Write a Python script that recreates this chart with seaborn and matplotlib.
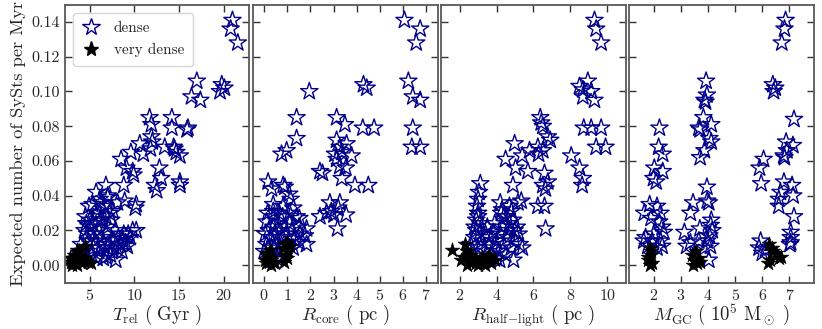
import numpy as np
import pandas as pd
import matplotlib
matplotlib.use('Agg')
import matplotlib.pyplot as plt
from matplotlib.lines import Line2D
import seaborn as sns

# (x, y) values, one list per panel and group
trel_dense = [
    (21.0, 0.141), (20.8, 0.136), (21.6, 0.128), (17.0, 0.106), (16.4, 0.097), (17.4, 0.095),
    (19.8, 0.104), (20.1, 0.102), (19.6, 0.100), (11.7, 0.085), (11.9, 0.081), (14.2, 0.085),
    (14.2, 0.079), (16.0, 0.079), (15.9, 0.078), (11.9, 0.074), (12.0, 0.071), (10.6, 0.070),
    (9.6, 0.065), (11.0, 0.064), (11.8, 0.067), (8.5, 0.061), (9.1, 0.056), (9.8, 0.054),
    (9.9, 0.052), (13.4, 0.068), (14.4, 0.068), (14.7, 0.065), (15.1, 0.063), (14.5, 0.067),
    (12.8, 0.056), (13.0, 0.050), (12.3, 0.046), (12.5, 0.043), (15.1, 0.048), (15.1, 0.046),
    (6.8, 0.046), (8.8, 0.046), (5.7, 0.042), (6.1, 0.038), (7.0, 0.039), (8.9, 0.037),
    (8.1, 0.036), (10.2, 0.035), (10.1, 0.033), (4.9, 0.034), (5.3, 0.035), (6.1, 0.030),
    (6.8, 0.028), (7.6, 0.031), (6.4, 0.026), (4.5, 0.028), (5.3, 0.024), (4.4, 0.020),
    (10.2, 0.020), (9.3, 0.018), (8.7, 0.015), (7.2, 0.012), (7.9, 0.003), (6.8, 0.005),
    (5.9, 0.010), (4.0, 0.012), (3.8, 0.007),
    (5.0, 0.022), (5.5, 0.018), (6.0, 0.020), (6.3, 0.016), (6.6, 0.012), (7.0, 0.010),
    (7.5, 0.008), (8.0, 0.010), (8.4, 0.012), (7.7, 0.014), (8.8, 0.018), (9.0, 0.013),
    (9.5, 0.016), (6.0, 0.008), (5.4, 0.010), (4.8, 0.014), (5.2, 0.006), (6.5, 0.004),
    (7.3, 0.006), (5.8, 0.030), (6.2, 0.026), (7.0, 0.022), (4.7, 0.018), (5.6, 0.014),
    (6.8, 0.018), (7.9, 0.020), (8.6, 0.008), (9.2, 0.011), (5.0, 0.026), (6.6, 0.034),
    (7.2, 0.030), (4.3, 0.008), (5.8, 0.004), (8.2, 0.016), (9.8, 0.020), (7.4, 0.026),
    (6.2, 0.036), (7.0, 0.040), (4.6, 0.024),
]
trel_vdense = [
    (2.8, 0.004), (3.0, 0.002), (3.2, 0.006), (3.4, 0.001), (3.5, 0.009), (3.7, 0.003),
    (3.9, 0.005), (4.1, 0.001), (4.4, 0.011), (4.5, 0.004), (4.8, 0.002), (5.1, 0.001),
    (3.3, 0.003), (3.0, 0.000), (2.9, 0.002), (3.6, 0.000), (4.2, 0.003), (3.8, 0.008),
    (3.1, 0.004), (4.0, 0.002),
]

rcore_dense = [
    (6.06, 0.141), (6.74, 0.136), (6.57, 0.128), (6.23, 0.106), (6.42, 0.097), (6.74, 0.095),
    (6.42, 0.079), (6.38, 0.068), (6.74, 0.068), (1.95, 0.100), (4.29, 0.104), (4.43, 0.102),
    (1.40, 0.085), (1.40, 0.073), (3.13, 0.085), (3.49, 0.081), (4.26, 0.079), (4.75, 0.079),
    (0.75, 0.064), (0.97, 0.066), (3.13, 0.072), (3.27, 0.068), (3.56, 0.070), (3.06, 0.064),
    (3.35, 0.065), (3.78, 0.063), (3.13, 0.061), (3.27, 0.057), (3.53, 0.056), (3.35, 0.050),
    (2.41, 0.054), (2.52, 0.053), (3.92, 0.046), (4.50, 0.046), (0.17, 0.048), (0.32, 0.044),
    (0.82, 0.046), (0.89, 0.045), (1.08, 0.041), (1.14, 0.038), (0.39, 0.035), (0.39, 0.031),
    (0.82, 0.034), (1.26, 0.033), (1.40, 0.028), (1.52, 0.027), (2.84, 0.036), (3.27, 0.036),
    (3.20, 0.033), (2.90, 0.031), (2.70, 0.030), (3.01, 0.029), (2.41, 0.028), (3.54, 0.029),
    (3.17, 0.021), (1.83, 0.021), (1.76, 0.017), (1.54, 0.018), (1.83, 0.012), (1.52, 0.013),
    (0.10, 0.025), (0.20, 0.020), (0.30, 0.016), (0.10, 0.012), (0.40, 0.022), (0.50, 0.018),
    (0.60, 0.024), (0.70, 0.020), (0.80, 0.016), (0.90, 0.022), (1.00, 0.018), (1.10, 0.024),
    (1.20, 0.020), (0.30, 0.010), (0.50, 0.012), (0.60, 0.008), (0.00, 0.008), (0.20, 0.005),
    (0.70, 0.013), (1.30, 0.015), (1.00, 0.012), (0.40, 0.028), (0.80, 0.028), (1.10, 0.030),
    (0.15, 0.030), (0.55, 0.004), (1.50, 0.022), (0.90, 0.009), (0.05, 0.018), (0.35, 0.006),
    (1.25, 0.010), (0.65, 0.030),
]
rcore_vdense = [
    (0.05, 0.003), (0.10, 0.001), (0.15, 0.006), (0.20, 0.002), (0.25, 0.009), (0.30, 0.000),
    (0.35, 0.004), (0.40, 0.002), (0.45, 0.001), (0.20, 0.005), (0.10, 0.007), (0.30, 0.003),
    (0.80, 0.010), (0.90, 0.012), (1.00, 0.013), (1.10, 0.011), (0.90, 0.006), (1.00, 0.004),
    (0.85, 0.002), (1.05, 0.008),
]

rhl_dense = [
    (9.31, 0.141), (9.40, 0.136), (9.67, 0.128), (8.50, 0.103), (8.95, 0.106), (8.68, 0.101),
    (9.13, 0.100), (8.68, 0.097), (9.31, 0.095), (8.73, 0.079), (9.13, 0.079), (9.67, 0.079),
    (9.40, 0.068), (9.91, 0.068), (8.05, 0.063), (8.50, 0.056), (8.68, 0.050), (8.64, 0.046),
    (6.37, 0.085), (6.42, 0.082), (6.51, 0.080), (6.78, 0.074), (6.91, 0.072), (6.24, 0.068),
    (6.51, 0.066), (6.28, 0.064), (5.79, 0.066), (5.39, 0.063), (4.98, 0.070), (4.49, 0.061),
    (5.03, 0.056), (5.70, 0.054), (6.60, 0.053), (6.51, 0.046), (6.78, 0.048), (6.65, 0.044),
    (4.89, 0.046), (6.24, 0.034), (6.60, 0.034), (6.66, 0.021), (3.12, 0.047), (3.05, 0.042),
    (3.00, 0.038), (2.94, 0.034), (3.00, 0.028), (2.81, 0.022), (3.08, 0.018), (4.20, 0.036),
    (4.26, 0.030), (5.16, 0.036), (5.34, 0.037), (4.80, 0.031), (4.56, 0.028), (4.98, 0.020),
    (5.25, 0.012), (4.92, 0.003), (4.17, 0.003), (3.81, 0.019),
    (2.6, 0.012), (2.8, 0.016), (3.0, 0.010), (3.2, 0.014), (3.4, 0.018), (3.6, 0.012),
    (3.8, 0.010), (4.0, 0.014), (4.2, 0.018), (4.4, 0.012), (4.6, 0.016), (4.8, 0.010),
    (5.0, 0.014), (3.5, 0.022), (3.9, 0.024), (4.3, 0.022), (4.7, 0.024), (4.1, 0.008),
    (4.5, 0.006), (3.7, 0.006), (5.2, 0.018), (2.9, 0.020), (3.3, 0.008), (4.9, 0.026),
    (4.4, 0.028), (3.1, 0.024), (2.7, 0.008), (5.4, 0.010), (4.0, 0.004), (4.6, 0.020),
    (3.6, 0.016), (4.3, 0.032), (4.7, 0.034), (3.0, 0.030), (2.9, 0.026), (5.1, 0.022),
]
rhl_vdense = [
    (1.6, 0.009), (2.3, 0.012), (2.4, 0.008), (2.2, 0.005), (2.5, 0.002), (2.7, 0.004),
    (2.9, 0.001), (3.1, 0.003), (3.3, 0.002), (3.5, 0.004), (3.7, 0.001), (3.9, 0.003),
    (3.6, 0.006), (2.4, 0.000), (2.6, 0.006), (3.0, 0.000), (3.2, 0.005), (3.4, 0.000),
    (2.8, 0.003), (2.1, 0.003),
]

mgc_dense = [
    (6.86, 0.141), (6.82, 0.136), (6.72, 0.128), (6.39, 0.104), (6.48, 0.102), (6.42, 0.100),
    (3.93, 0.106), (3.96, 0.098), (3.87, 0.095), (3.91, 0.094), (3.83, 0.085), (3.66, 0.079),
    (3.71, 0.078), (4.12, 0.081), (4.05, 0.073), (4.12, 0.071), (3.87, 0.066), (3.71, 0.062),
    (7.17, 0.084), (6.88, 0.071), (7.13, 0.069), (6.91, 0.066), (6.79, 0.063), (6.82, 0.062),
    (2.21, 0.079), (2.18, 0.068), (2.33, 0.064), (2.02, 0.056), (2.33, 0.054), (1.99, 0.050),
    (2.09, 0.048), (6.05, 0.061), (5.90, 0.056), (5.96, 0.047), (3.96, 0.045),
    (1.85, 0.035), (1.65, 0.030), (1.90, 0.027), (2.12, 0.034), (2.25, 0.030), (2.31, 0.022),
    (2.37, 0.019), (1.63, 0.014), (1.78, 0.011), (1.94, 0.014), (2.25, 0.014), (2.31, 0.011),
    (2.12, 0.010), (3.45, 0.036), (3.35, 0.030), (3.13, 0.019), (3.70, 0.021), (3.97, 0.037),
    (4.03, 0.036), (4.12, 0.026), (4.16, 0.020), (3.97, 0.014), (4.09, 0.011), (4.03, 0.003),
    (3.21, 0.011), (3.35, 0.013), (3.66, 0.014), (3.87, 0.010), (6.80, 0.048), (6.67, 0.042),
    (6.61, 0.038), (6.61, 0.034), (7.10, 0.046), (7.14, 0.040), (7.17, 0.028), (7.05, 0.019),
    (7.05, 0.016), (7.05, 0.013), (7.02, 0.012), (5.94, 0.014), (5.88, 0.010), (6.00, 0.007),
    (6.12, 0.009), (1.70, 0.016), (2.00, 0.018), (2.20, 0.025), (4.05, 0.017), (4.10, 0.023),
]
mgc_vdense = [
    (1.85, 0.010), (1.90, 0.006), (1.80, 0.003), (1.95, 0.001), (1.85, 0.000), (1.90, 0.008),
    (1.80, 0.005), (3.40, 0.006), (3.50, 0.003), (3.60, 0.001), (3.55, 0.008), (3.45, 0.000),
    (3.70, 0.002), (3.65, 0.004), (6.25, 0.012), (6.35, 0.010), (6.40, 0.008), (6.50, 0.007),
    (6.60, 0.004), (6.20, 0.001), (6.30, 0.003), (6.70, 0.005),
]

x_labels = [r'$T_{\rm rel}\ (\ {\rm Gyr}\ )$', r'$R_{\rm core}\ (\ {\rm pc}\ )$',
            r'$R_{\rm half\!-\!light}\ (\ {\rm pc}\ )$',
            r'$M_{\rm GC}\ (\ 10^5\ {\rm M}_\odot\ )$']
x_limits = [(2.2, 22.9), (-0.48, 7.49), (1.0, 11.0), (1.1, 7.9)]
x_ticks = [[5, 10, 15, 20], [0, 1, 2, 3, 4, 5, 6, 7], [2, 4, 6, 8, 10], [2, 3, 4, 5, 6, 7]]

panels = [(trel_dense, trel_vdense), (rcore_dense, rcore_vdense),
          (rhl_dense, rhl_vdense), (mgc_dense, mgc_vdense)]

sns.set_style('ticks')
plt.rcParams['font.family'] = ['cmr10', 'DejaVu Serif']
plt.rcParams['mathtext.fontset'] = 'cm'
plt.rcParams['axes.formatter.use_mathtext'] = True

fig, axes = plt.subplots(1, 4, figsize=(8.22, 3.29), dpi=100, sharey=True)
plt.subplots_adjust(left=0.079, right=0.990, bottom=0.140, top=0.985, wspace=0.02)

blue = '#00008B'
for i, ax in enumerate(axes):
    dense, vdense = panels[i]
    d = pd.DataFrame(dense, columns=['x', 'y'])
    v = pd.DataFrame(vdense, columns=['x', 'y'])
    sns.scatterplot(data=d, x='x', y='y', ax=ax, marker='*', s=170,
                    facecolor='none', edgecolor=blue, linewidth=1.0, legend=False)
    sns.scatterplot(data=v, x='x', y='y', ax=ax, marker='*', s=120,
                    color='black', edgecolor='black', linewidth=0.5, legend=False)
    ax.set_xlim(*x_limits[i])
    ax.set_ylim(-0.0102, 0.1498)
    ax.set_xticks(x_ticks[i])
    ax.set_yticks([0.0, 0.02, 0.04, 0.06, 0.08, 0.10, 0.12, 0.14])
    ax.set_xlabel(x_labels[i], fontsize=13.5, labelpad=0)
    ax.set_ylabel('')
    ax.tick_params(direction='in', top=True, right=True, length=5, width=1,
                   labelsize=11.5, color='0.2')
    for sp in ax.spines.values():
        sp.set_linewidth(1.3)
        sp.set_color('0.35')

axes[0].yaxis.set_major_formatter(matplotlib.ticker.FormatStrFormatter('%.2f'))
axes[0].set_ylabel('Expected number of SySts per Myr', fontsize=13.3, labelpad=4)

handles = [
    Line2D([], [], linestyle='none', marker='*', markersize=13, markerfacecolor='none',
           markeredgecolor=blue, markeredgewidth=1.0, label='dense'),
    Line2D([], [], linestyle='none', marker='*', markersize=11, color='black', label='very dense'),
]
axes[0].legend(handles=handles, loc='upper left', fontsize=11, frameon=True,
               fancybox=True, edgecolor='0.8', borderpad=0.6, handlelength=1.2,
               handletextpad=0.9, borderaxespad=0.5)

plt.savefig('out.png', dpi=100)
